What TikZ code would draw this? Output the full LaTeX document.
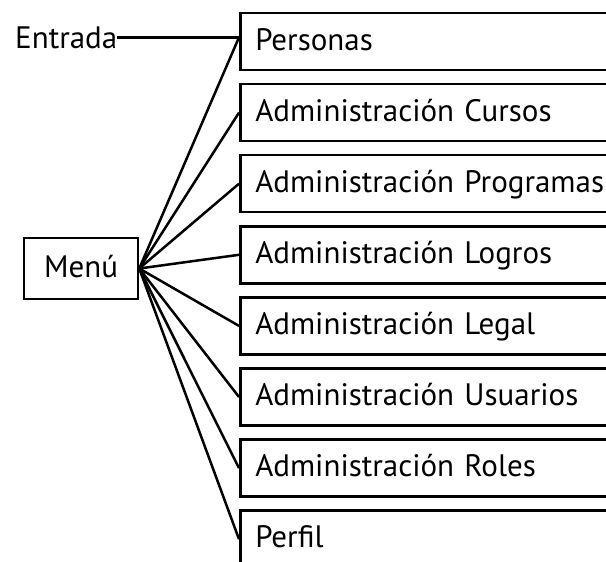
\documentclass[tikz,border=0pt]{standalone}
\usepackage{fontspec}
\setmainfont{PT Sans}
\begin{document}
\begin{tikzpicture}[x=1pt,y=-1pt]
\tikzset{box style/.style={shape=rectangle,draw=black,line width=2.5pt,anchor=west,minimum width=420pt,minimum height=57pt,text width=390pt,inner xsep=15pt,align=left,text height=21pt,text depth=4pt,font=\fontsize{31}{34}\selectfont}}
\tikzset{menu style/.style={shape=rectangle,draw=black,line width=2.5pt,minimum width=114pt,minimum height=61pt,inner sep=0pt,text height=21pt,text depth=4pt,font=\fontsize{31}{34}\selectfont}}
\useasboundingbox (0,0) rectangle (606,562);

\node[menu style] at (81, 268.5)   (menu)   {Menú};
\node[anchor=base west, inner sep=0pt, font=\fontsize{31}{34}\selectfont] at (15, 48)   (entrada)   {Entrada};

\node[box style] at (239, 41.5)    (1)     {Personas};
\node[box style] at (239, 112.6)   (2)     {Administración Cursos};
\node[box style] at (239, 183.7)   (3)     {Administración Programas};
\node[box style] at (239, 254.8)   (4)     {Administración Logros};
\node[box style] at (239, 325.9)   (5)     {Administración Legal};
\node[box style] at (239, 397)     (6)     {Administración Usuarios};
\node[box style] at (239, 468.1)   (7)     {Administración Roles};
\node[box style] at (239, 539.2)   (8)     {Perfil};


\draw[line width=2.5pt, line join=round]
            (entrada.east)  edge  (entrada.east -| 1.west)
            (menu.east)     edge  (entrada.east -| 1.west)
            (menu.east)     edge  (2.west)
            (menu.east)     edge  (3.west)
            (menu.east)     edge  (4.west)
            (menu.east)     edge  (5.west)
            (menu.east)     edge  (6.west)
            (menu.east)     edge  (7.west)
            (menu.east)     edge  (8.west)

;
\end{tikzpicture}
\end{document}
